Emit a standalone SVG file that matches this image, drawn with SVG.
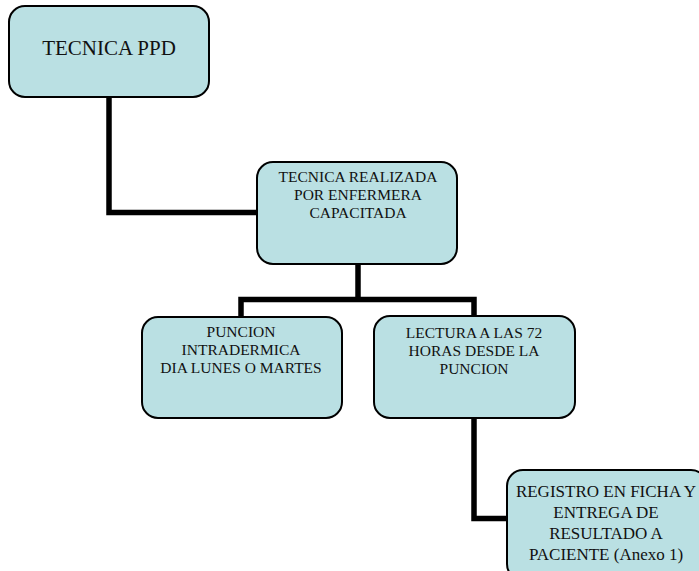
<svg xmlns="http://www.w3.org/2000/svg" width="699" height="571" viewBox="0 0 699 571">
<style>
.box{fill:#bae0e3;stroke:#000;stroke-width:2}
.conn{fill:none;stroke:#000;stroke-width:5.5;stroke-linejoin:miter}
text{font-family:"Liberation Serif","Times New Roman",serif;fill:#111;text-anchor:middle}
.t{font-size:15.5px}
</style>
<rect width="699" height="571" fill="#fff"/>
<g id="connectors">
<polyline class="conn" points="109,97 109,212.5 257,212.5"/>
<polyline class="conn" points="358,264 358,299.5"/>
<polyline class="conn" points="241,317 241,299.5 474,299.5 474,316"/>
<polyline class="conn" points="474,418 474,518.5 507,518.5"/>
</g>
<g id="n1">
<rect class="box" x="9" y="6" width="200" height="91" rx="16"/>
<text x="109" y="55" style="font-size:21px">TECNICA PPD</text>
</g>
<g id="n2">
<rect class="box" x="257" y="162" width="200" height="102" rx="16"/>
<text class="t" x="358" y="182">TECNICA REALIZADA</text>
<text class="t" x="358" y="200">POR ENFERMERA</text>
<text class="t" x="358" y="218">CAPACITADA</text>
</g>
<g id="n3">
<rect class="box" x="142" y="317" width="200" height="101" rx="16"/>
<text class="t" x="241" y="337">PUNCION</text>
<text class="t" x="241" y="355">INTRADERMICA</text>
<text class="t" x="241" y="373">DIA LUNES O MARTES</text>
</g>
<g id="n4">
<rect class="box" x="374" y="316" width="201" height="102" rx="16"/>
<text class="t" x="474" y="338">LECTURA A LAS 72</text>
<text class="t" x="474" y="356">HORAS DESDE LA</text>
<text class="t" x="474" y="374">PUNCION</text>
</g>
<g id="n5">
<rect class="box" x="507" y="470" width="200" height="110" rx="16"/>
<text x="606" y="497" style="font-size:17px">REGISTRO EN FICHA Y</text>
<text x="606" y="518" style="font-size:17px">ENTREGA DE</text>
<text x="606" y="539" style="font-size:17px">RESULTADO A</text>
<text x="606" y="560" style="font-size:17px">PACIENTE (Anexo 1)</text>
</g>
</svg>
